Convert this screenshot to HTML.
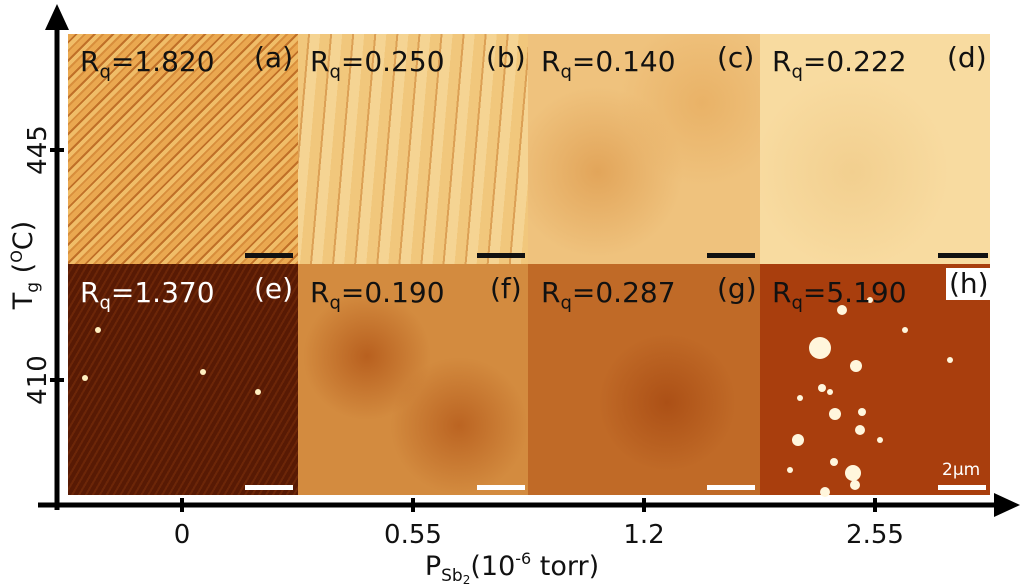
<!DOCTYPE html>
<html><head><meta charset="utf-8"><style>
body{margin:0;width:1024px;height:584px;background:#fff;overflow:hidden;position:relative;font-family:"Liberation Sans","DejaVu Sans",sans-serif}
.p{position:absolute;overflow:hidden}
.lab{position:absolute;font-family:"DejaVu Sans","Liberation Sans",sans-serif;font-size:28px;color:#111;line-height:1}
.sb{position:absolute;height:5px;width:48px}
</style></head><body>
<div class="p" style="left:68px;top:34px;width:230px;height:230px;background:repeating-linear-gradient(135deg,#eaa850 0 5px,#c07028 5px 7px,#f0bd68 7px 11px,#d88e3c 11px 13px)"></div>
<div class="p" style="left:298px;top:34px;width:230px;height:230px;background:repeating-linear-gradient(95deg,#f1c77c 0 10px,#dca055 10px 12px,#f5d493 12px 22px)"></div>
<div class="p" style="left:528px;top:34px;width:232px;height:230px;background:radial-gradient(circle at 30% 60%,#e2a55a,transparent 40%),radial-gradient(circle at 75% 30%,#e9b267,transparent 35%),#efc27d"></div>
<div class="p" style="left:760px;top:34px;width:230px;height:230px;background:radial-gradient(circle at 40% 60%,#f2cf8f,transparent 50%),#f8dba0"></div>
<div class="p" style="left:68px;top:264px;width:230px;height:231px;background:repeating-linear-gradient(120deg,#581a04 0 4px,#6c2608 4px 6px),#5e1c06"></div>
<div class="p" style="left:298px;top:264px;width:230px;height:231px;background:radial-gradient(circle at 30% 40%,#b8601f,transparent 30%),radial-gradient(circle at 70% 70%,#bb6422,transparent 30%),#d38b3f"></div>
<div class="p" style="left:528px;top:264px;width:232px;height:231px;background:radial-gradient(circle at 60% 60%,#ac5016,transparent 35%),#c06a27"></div>
<div class="p" style="left:760px;top:264px;width:230px;height:231px;background:#a93e0d"></div>
<svg width="1024" height="584" style="position:absolute;left:0;top:0">
<g id="dots"></g>
<line x1="57" y1="510" x2="57" y2="28" stroke="#000" stroke-width="5"/>
<polygon points="57,4 45,30 69,30" fill="#000"/>
<line x1="38" y1="505" x2="996" y2="505" stroke="#000" stroke-width="5"/>
<polygon points="1020,505 994,493 994,517" fill="#000"/>
<g stroke="#000" stroke-width="4">
<line x1="182" y1="498" x2="182" y2="512"/><line x1="413" y1="498" x2="413" y2="512"/><line x1="644" y1="498" x2="644" y2="512"/><line x1="875" y1="498" x2="875" y2="512"/>
<line x1="50" y1="150" x2="64" y2="150"/><line x1="50" y1="380" x2="64" y2="380"/>
</g>
<g font-family="DejaVu Sans,Liberation Sans,sans-serif" font-size="26" text-anchor="middle" fill="#111">
<text x="182" y="543">0</text><text x="413" y="543">0.55</text><text x="644" y="543">1.2</text><text x="875" y="543">2.55</text>
<text transform="translate(46,150) rotate(-90)">445</text><text transform="translate(46,380) rotate(-90)">410</text>
<text x="512" y="575" font-size="27">P<tspan font-size="17" dy="6">Sb</tspan><tspan font-size="12" dy="3">2</tspan><tspan dy="-9">(10</tspan><tspan font-size="16" dy="-11">-6</tspan><tspan dy="11"> torr)</tspan></text>
<text transform="translate(32,265) rotate(-90)" font-size="27">T<tspan font-size="17" dy="6">g</tspan><tspan dy="-6"> (</tspan><tspan font-size="16" dy="-10">O</tspan><tspan dy="10">C)</tspan></text>
</g>
</svg>
<div class="lab" style="left:80px;top:48px">R<sub style="font-size:18px">q</sub>=1.820</div><div class="lab" style="left:254px;top:44px">(a)</div>
<div class="lab" style="left:310px;top:48px">R<sub style="font-size:18px">q</sub>=0.250</div><div class="lab" style="left:486px;top:44px">(b)</div>
<div class="lab" style="left:541px;top:48px">R<sub style="font-size:18px">q</sub>=0.140</div><div class="lab" style="left:717px;top:44px">(c)</div>
<div class="lab" style="left:772px;top:48px">R<sub style="font-size:18px">q</sub>=0.222</div><div class="lab" style="left:947px;top:44px">(d)</div>
<div class="lab" style="left:80px;top:279px;color:#fff">R<sub style="font-size:18px">q</sub>=1.370</div><div class="lab" style="left:254px;top:275px;color:#fff">(e)</div>
<div class="lab" style="left:310px;top:279px">R<sub style="font-size:18px">q</sub>=0.190</div><div class="lab" style="left:490px;top:275px">(f)</div>
<div class="lab" style="left:541px;top:279px">R<sub style="font-size:18px">q</sub>=0.287</div><div class="lab" style="left:717px;top:275px">(g)</div>
<div class="lab" style="left:772px;top:279px">R<sub style="font-size:18px">q</sub>=5.190</div><div class="lab" style="left:946px;top:268px;background:#fff;padding:2px 3px">(h)</div>
<div class="sb" style="left:245px;top:253px;background:#111"></div>
<div class="sb" style="left:477px;top:253px;background:#111"></div>
<div class="sb" style="left:707px;top:253px;background:#111"></div>
<div class="sb" style="left:938px;top:253px;background:#111;width:50px"></div>
<div class="sb" style="left:245px;top:485px;background:#fff"></div>
<div class="sb" style="left:477px;top:485px;background:#fff"></div>
<div class="sb" style="left:707px;top:485px;background:#fff"></div>
<div class="sb" style="left:938px;top:485px;background:#fff"></div>
<div class="lab" style="left:942px;top:462px;font-size:17px;color:#fff">2μm</div>
<script>
const hx=[842,820,856,862,860,835,834,825,798,822,853,855,800,830,905,950,870,880,790];
const hy=[310,348,366,412,430,414,462,492,440,388,473,485,398,392,330,360,300,440,470];
const hr=[5,11,6,4,5,6,4,5,6,4,8,5,3,3,3,3,3,3,3];
const g=document.getElementById('dots');
for(let i=0;i<hx.length;i++){const c=document.createElementNS('http://www.w3.org/2000/svg','circle');


c.setAttribute('cx',hx[i]);c.setAttribute('cy',hy[i]);c.setAttribute('r',hr[i]);c.setAttribute('fill','#fff6dc');g.appendChild(c);}
const ex=[98,85,203,258];const ey=[330,378,372,392];
for(let i=0;i<ex.length;i++){const c=document.createElementNS('http://www.w3.org/2000/svg','circle');


c.setAttribute('cx',ex[i]);c.setAttribute('cy',ey[i]);c.setAttribute('r',3);c.setAttribute('fill','#fff0c0');g.appendChild(c);}
</script>
</body></html>
